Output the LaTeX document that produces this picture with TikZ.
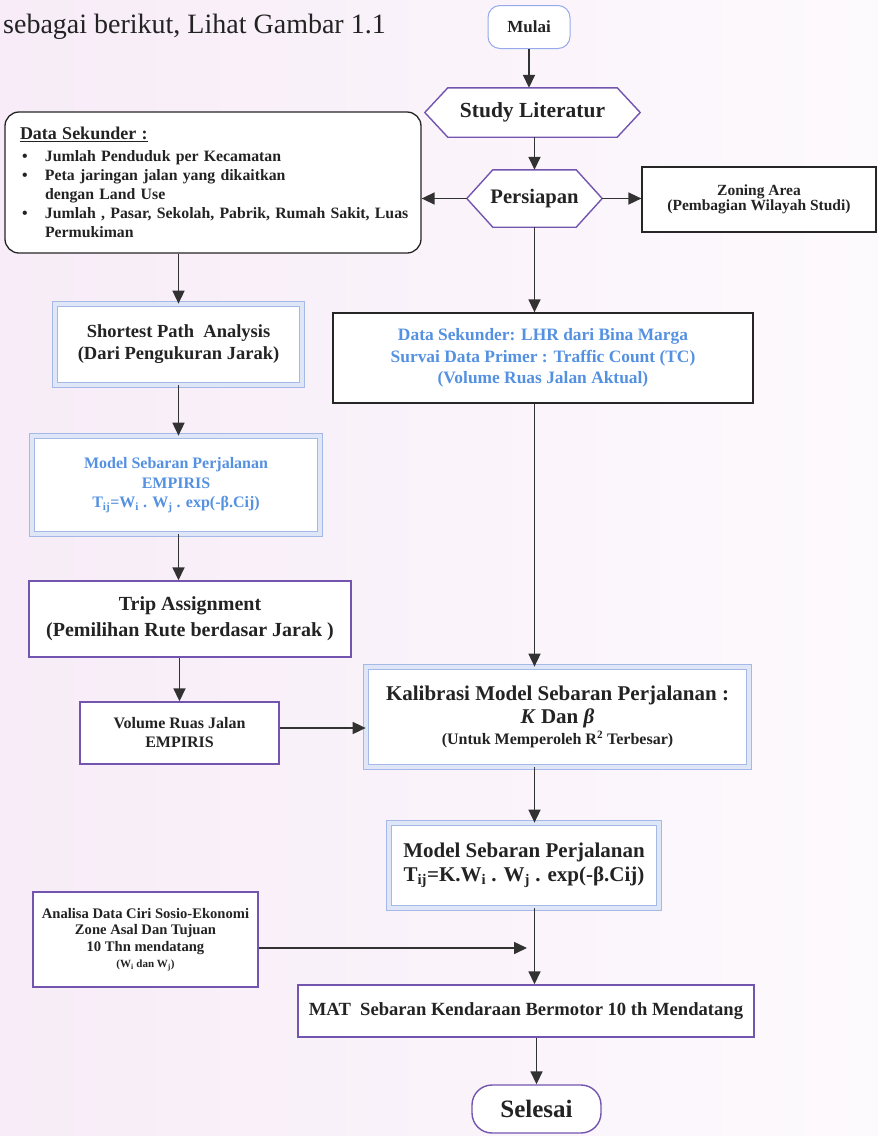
\documentclass[tikz,border=0pt]{standalone}
\usepackage{fontspec}
\setmainfont{Liberation Serif}
\usetikzlibrary{arrows.meta,calc}
\definecolor{txt}{RGB}{35,35,35}
\definecolor{arrc}{RGB}{50,50,50}
\definecolor{purp}{RGB}{115,85,175}
\definecolor{blu}{RGB}{85,145,225}
\definecolor{fancyline}{RGB}{165,185,230}
\definecolor{fancyfill}{RGB}{222,230,248}
\definecolor{mulaic}{RGB}{150,170,235}
\definecolor{bgL}{RGB}{247,236,247}
\definecolor{bgR}{RGB}{253,250,253}
\newcommand{\fsz}[2]{\fontsize{#1}{#2}\selectfont}
\pgfdeclarelayer{back}
\pgfdeclarelayer{hexl}
\pgfsetlayers{back,hexl,main}
\begin{document}
\begin{tikzpicture}[x=1pt,y=-1pt,
  every node/.style={text=txt, inner sep=0pt, align=center},
  plainbox/.style={draw=black!85, line width=1.3pt, fill=white},
  purpbox/.style={draw=purp, line width=1.4pt, fill=white},
  fancy/.style={draw=fancyline, line width=0.7pt, double=fancyfill, double distance=4.5pt, fill=white},
  hexline/.style={draw=purp, line width=1.4pt, fill=white},
  arr/.style={draw=arrc, line width=1.6pt, -{Triangle[length=13pt,width=12pt]}},
]
\useasboundingbox (0,0) rectangle (878,1136);
\begin{pgfonlayer}{back}
\fill[left color=bgL, right color=bgR] (0,0) rectangle (878,1136);
\end{pgfonlayer}

\node[anchor=base west, font=\fsz{28}{32}] (title) at (3,33) {sebagai berikut, Lihat Gambar 1.1};

\node[draw=mulaic, line width=1pt, rounded corners=12pt, fill=white, minimum width=82pt, minimum height=43pt, font=\bfseries\fsz{17}{20}] (mulai) at (529,27) {Mulai};

\node[minimum width=215pt, minimum height=49pt, font=\bfseries\fsz{21.5}{24}] (study) at (532.5,112.5) {Study Literatur};

\node[minimum width=135pt, minimum height=57pt, font=\bfseries\fsz{20.6}{24}] (persiapan) at (534.5,198.5) {Persiapan};

\node[plainbox, rounded corners=14pt, minimum width=416pt, minimum height=141pt, text width=386pt, align=left, font=\bfseries\fsz{15.8}{19}] (datasek) at (213,182.5)
{{\fsz{18}{19}\underline{Data Sekunder :}}\\[3pt]
\hspace*{2pt}\makebox[23pt][l]{\textbullet}Jumlah Penduduk per Kecamatan\\
\hspace*{2pt}\makebox[23pt][l]{\textbullet}Peta jaringan jalan yang dikaitkan\\
\hspace*{25pt}dengan Land Use\\
\hspace*{2pt}\makebox[23pt][l]{\textbullet}\makebox[300pt][l]{Jumlah , Pasar, Sekolah, Pabrik, Rumah Sakit, Luas}\\
\hspace*{25pt}Permukiman};

\node[plainbox, line width=1.2pt, minimum width=234pt, minimum height=65pt, font=\bfseries\fsz{15.5}{15}] (zoning) at (759,199.5) {Zoning Area\\(Pembagian Wilayah Studi)};

\node[fancy, minimum width=247pt, minimum height=81pt, font=\bfseries\fsz{18.5}{22}] (shortest) at (178.5,344.5) {Shortest Path\ \ Analysis\\(Dari Pengukuran Jarak)};

\node[plainbox, minimum width=420pt, minimum height=90pt, text=blu, font=\bfseries\fsz{17.4}{21.5}] (lhr) at (543,358) {Data Sekunder: LHR dari Bina Marga\\Survai Data Primer : Traffic Count (TC)\\(Volume Ruas Jalan Aktual)};

\node[fancy, minimum width=288pt, minimum height=98pt, text=blu, font=\bfseries\fsz{16}{19.5}] (empiris) at (176,485) {Model Sebaran Perjalanan\\EMPIRIS\\T\textsubscript{ij}=W\textsubscript{i} . W\textsubscript{j} . exp(-β.Cij)};

\node[purpbox, minimum width=322pt, minimum height=76pt, font=\bfseries\fsz{20}{26}] (trip) at (190,619) {Trip Assignment\\(Pemilihan Rute berdasar Jarak )};

\node[purpbox, minimum width=199pt, minimum height=62pt, font=\bfseries\fsz{16}{19}] (volume) at (179.5,733) {Volume Ruas Jalan\\EMPIRIS};

\node[fancy, minimum width=383pt, minimum height=100pt, font=\bfseries\fsz{21}{23}] (kalib) at (557.5,717) {Kalibrasi Model Sebaran Perjalanan :\\\textit{K} Dan \textit{β}\\[-2pt]{\fsz{16}{20}(Untuk Memperoleh R\textsuperscript{2} Terbesar)}};

\node[fancy, minimum width=270pt, minimum height=85pt, font=\bfseries\fsz{21}{24}] (model) at (524,865.5) {Model Sebaran Perjalanan\\T\textsubscript{ij}=K.W\textsubscript{i} . W\textsubscript{j} . exp(-β.Cij)};

\node[purpbox, minimum width=225pt, minimum height=95pt, font=\bfseries\fsz{14.6}{16.5}] (analisa) at (145.5,939.5) {Analisa Data Ciri Sosio-Ekonomi\\Zone Asal Dan Tujuan\\10 Thn mendatang\\{\fsz{11}{16.5}(W\textsubscript{i} dan W\textsubscript{j})}};

\node[purpbox, minimum width=456pt, minimum height=52pt, font=\bfseries\fsz{18.6}{22}] (mat) at (526,1011) {MAT\ \ Sebaran Kendaraan Bermotor 10 th Mendatang};

\node[purpbox, rounded corners=20pt, minimum width=129pt, minimum height=48pt, font=\bfseries\fsz{25}{28}] (selesai) at (536.5,1109) {Selesai};

\coordinate (join) at (527,948);

\begin{pgfonlayer}{hexl}
\draw[hexline] (study.west) -- ([xshift=23pt]study.north west) -- ([xshift=-23pt]study.north east) -- (study.east) -- ([xshift=-23pt]study.south east) -- ([xshift=23pt]study.south west) -- cycle;
\draw[hexline] (persiapan.west) -- ([xshift=26pt]persiapan.north west) -- ([xshift=-26pt]persiapan.north east) -- (persiapan.east) -- ([xshift=-26pt]persiapan.south east) -- ([xshift=26pt]persiapan.south west) -- cycle;
\end{pgfonlayer}

\draw[arr] (mulai.south) -- (mulai.south |- study.north);
\draw[arr] (persiapan.north |- study.south) -- (persiapan.north);
\draw[arr] (persiapan.west) -- (persiapan.west -| datasek.east);
\draw[arr] (persiapan.east) -- (persiapan.east -| zoning.west);
\draw[arr] (shortest.north |- datasek.south) -- (shortest.north);
\draw[arr] (persiapan.south) -- (persiapan.south |- lhr.north);
\draw[arr] (shortest.south) -- (shortest.south |- empiris.north);
\draw[arr] (shortest.south |- empiris.south) -- (shortest.south |- trip.north);
\draw[arr] (volume.north |- trip.south) -- (volume.north);
\draw[arr] ([yshift=5pt]volume.east) -- ([yshift=5pt]volume.east -| kalib.west);
\draw[arr] (persiapan.south |- lhr.south) -- (persiapan.south |- kalib.north);
\draw[arr] (persiapan.south |- kalib.south) -- (persiapan.south |- model.north);
\draw[arr] (persiapan.south |- model.south) -- (persiapan.south |- mat.north);
\draw[arr] (analisa.east |- join) -- (join);
\draw[arr] (selesai.north |- mat.south) -- (selesai.north);
\end{tikzpicture}
\end{document}
